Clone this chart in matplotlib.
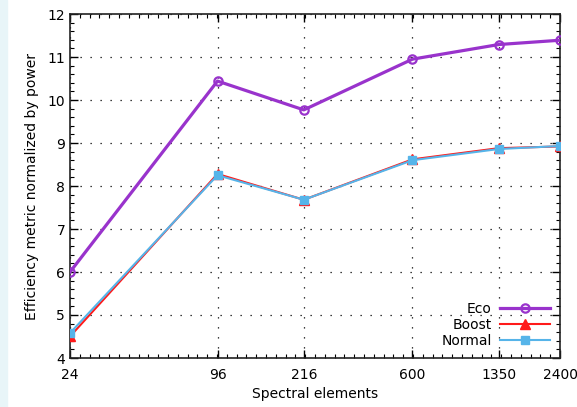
from matplotlib import pyplot as plt
from matplotlib.patches import Rectangle
from matplotlib.ticker import NullFormatter
import numpy as np

# values
elements = [24, 96, 216, 600, 1350, 2400]
eco = [6.0, 10.44, 9.77, 10.95, 11.29, 11.39]
boost = [4.5, 8.28, 7.68, 8.62, 8.88, 8.92]
normal = [4.58, 8.25, 7.68, 8.60, 8.86, 8.93]
y_ticks = [4, 5, 6, 7, 8, 9, 10, 11, 12]

plt.rcParams['font.family'] = 'DejaVu Sans'

fig = plt.figure(figsize=(5.77, 4.07), dpi=100)
fig.patches.append(Rectangle((0, 0), 7 / 577, 1, transform=fig.transFigure,
                             color='#e8f5f8', zorder=0))
ax = fig.add_axes([70 / 577, 1 - 358 / 407, 490 / 577, 344 / 407])

ax.plot(elements, eco, color='#9933cc', lw=2.3, marker='o', ms=6,
        mfc='none', mew=1.6, label='Eco', zorder=3)
ax.plot(elements, boost, color='#ff1a1a', lw=1.5, marker='^', ms=7,
        label='Boost', zorder=3)
ax.plot(elements, normal, color='#56b4e9', lw=1.5, marker='s', ms=6,
        label='Normal', zorder=4)

ax.set_xscale('log')
ax.set_xlim(24, 2400)
ax.set_ylim(4, 12)
ax.set_xticks(elements)
ax.set_xticklabels([str(e) for e in elements])
minor_x = 24 * 10 ** (np.arange(0, 2.001, 0.04))
ax.set_xticks(minor_x, minor=True)
ax.xaxis.set_minor_formatter(NullFormatter())
ax.set_yticks(y_ticks)
ax.set_yticks(np.arange(4, 12.01, 0.2), minor=True)

ax.tick_params(which='both', direction='in', top=True, right=True,
               labelsize=10, colors='black')
ax.tick_params(which='major', length=6, width=1)
ax.tick_params(which='minor', length=3, width=0.8)
ax.tick_params(axis='x', pad=7)
ax.grid(True, which='major', color='black', linestyle=(0, (1, 7)), lw=0.9)
for s in ax.spines.values():
    s.set_linewidth(1.2)
    s.set_color('#222222')

ax.set_xlabel('Spectral elements', fontsize=10, labelpad=4)
ax.set_ylabel('Efficiency metric normalized by power', fontsize=10, labelpad=6)

leg = ax.legend(loc='lower right', frameon=False, markerfirst=False,
                fontsize=10, handlelength=3.6, labelspacing=0.15,
                borderaxespad=0.3, handletextpad=0.6)

fig.savefig('out.png', dpi=100)
